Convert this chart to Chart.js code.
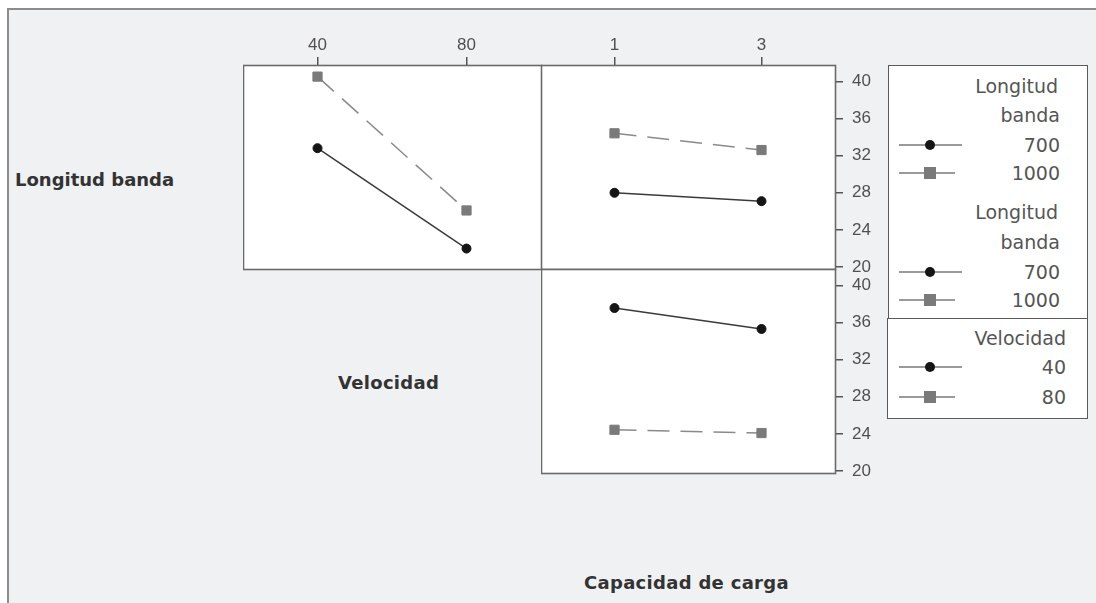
<!DOCTYPE html>
<html>
<head>
<meta charset="utf-8">
<script src="https://cdn.jsdelivr.net/npm/chart.js@4.4.0/dist/chart.umd.min.js"></script>
<style>
  html, body { margin: 0; padding: 0; background: #fff; }
  #page { position: relative; width: 1096px; height: 603px; overflow: hidden; background: #fff; }
  #frame { position: absolute; left: 7px; top: 8px; right: 0; bottom: 0;
           background: #f0f1f3; border-top: 2px solid #8c8c8c; border-left: 2px solid #8c8c8c; }
  canvas { position: absolute; }
  .lbl { position: absolute; font-family: "DejaVu Sans", sans-serif; font-weight: bold;
         font-size: 18px; letter-spacing: 0.3px; color: #333; white-space: nowrap; line-height: 20px; }
  .legbox { position: absolute; background: #fff; border: 1px solid #5a5a5a; box-sizing: border-box; }
  .legtxt { position: absolute; font-family: "DejaVu Sans", sans-serif; font-size: 19px;
            color: #555; white-space: nowrap; text-align: right; line-height: 22px; }
  .legline { position: absolute; height: 2px; background: #9a9a9a; }
  .legdot { position: absolute; }
</style>
</head>
<body>
<div id="page">
  <div id="frame"></div>
  <canvas id="chartA" width="300" height="246" style="left:243px; top:25px;"></canvas>
  <canvas id="chartB" width="336" height="264" style="left:541px; top:25px;"></canvas>
  <canvas id="chartC" width="336" height="244" style="left:541px; top:249px;"></canvas>
  <div class="lbl" style="left:15px; top:170px; letter-spacing: 0px;">Longitud banda</div>
  <div class="lbl" style="left:338px; top:373px;">Velocidad</div>
  <div class="lbl" style="left:584px; top:573px;">Capacidad de carga</div>
  <div id="legend"></div>
</div>
<script>
// niveles de los factores
const velocidadNiveles = [40, 80];
const capacidadNiveles = [1, 3];
const longitudNiveles = [700, 1000];
const yTicks = [20, 24, 28, 32, 36, 40];

// medias
const longitud700PorVelocidad = [32.8, 22.0];
const longitud1000PorVelocidad = [40.5, 26.1];
const longitud700PorCapacidad = [28.0, 27.1];
const longitud1000PorCapacidad = [34.4, 32.6];
const velocidad40PorCapacidad = [37.55, 35.3];
const velocidad80PorCapacidad = [24.45, 24.1];

Chart.defaults.font.family = "'Liberation Sans', sans-serif";
Chart.defaults.font.size = 17;
Chart.defaults.color = '#505050';

const panelBox = {
    id: 'panelBox',
    beforeDraw(chart) {
        const { ctx, chartArea: a } = chart;
        ctx.save();
        ctx.fillStyle = '#ffffff';
        ctx.fillRect(a.left, a.top, a.width, a.height);
        ctx.restore();
    },
    afterDraw(chart) {
        const { ctx, chartArea: a } = chart;
        ctx.save();
        ctx.strokeStyle = '#6a6a6a';
        ctx.lineWidth = 1.6;
        ctx.strokeRect(a.left + 0.5, a.top + 0.5, a.width, a.height);
        ctx.restore();
    }
};

function serieSolida(xs, ys) {
    return {
        data: xs.map((x, i) => ({ x: x, y: ys[i] })),
        borderColor: '#3a3a3a',
        borderWidth: 1.5,
        pointStyle: 'circle',
        pointRadius: 4.5,
        pointBackgroundColor: '#151515',
        pointBorderColor: '#151515',
        pointBorderWidth: 1
    };
}

function serieDiscontinua(xs, ys) {
    return {
        data: xs.map((x, i) => ({ x: x, y: ys[i] })),
        borderColor: '#8a8a8a',
        borderWidth: 1.5,
        borderDash: [22, 11],
        pointStyle: 'rect',
        pointRadius: 6.5,
        pointBackgroundColor: '#7a7a7a',
        pointBorderColor: '#7a7a7a',
        pointBorderWidth: 1
    };
}

function ejeX(niveles, min, max, mostrar) {
    const eje = {
        type: 'linear',
        position: 'top',
        display: mostrar,
        min: min,
        max: max,
        afterBuildTicks: s => { s.ticks = niveles.map(v => ({ value: v })); },
        grid: { drawOnChartArea: false, drawTicks: true, tickLength: 8, color: '#555', lineWidth: 1.5 },
        border: { display: false },
        ticks: { padding: 1, maxRotation: 0, autoSkip: false }
    };
    if (mostrar) eje.afterFit = s => { s.height = 40; };
    return eje;
}

function ejeY(mostrar) {
    const eje = {
        type: 'linear',
        position: 'right',
        display: mostrar,
        min: 19.8,
        max: 41.75,
        afterBuildTicks: s => { s.ticks = yTicks.map(v => ({ value: v })); },
        grid: { drawOnChartArea: false, drawTicks: true, tickLength: 8, color: '#555', lineWidth: 1.5 },
        border: { display: false },
        ticks: { padding: 9 }
    };
    if (mostrar) eje.afterFit = s => { s.width = 42; };
    return eje;
}

function panel(id, datasets, x, y, padding) {
    return new Chart(document.getElementById(id), {
        type: 'line',
        data: { datasets: datasets },
        options: {
            responsive: false,
            animation: false,
            layout: { padding: padding, autoPadding: false },
            plugins: { legend: { display: false }, tooltip: { enabled: false } },
            scales: { x: x, y: y }
        },
        plugins: [panelBox]
    });
}

panel('chartA', [
    serieSolida(velocidadNiveles, longitud700PorVelocidad),
    serieDiscontinua(velocidadNiveles, longitud1000PorVelocidad)
], ejeX(velocidadNiveles, 20, 100, true), ejeY(false), { top: 0, bottom: 2, left: 0, right: 2 });

panel('chartB', [
    serieSolida(capacidadNiveles, longitud700PorCapacidad),
    serieDiscontinua(capacidadNiveles, longitud1000PorCapacidad)
], ejeX(capacidadNiveles, 0, 4, true), ejeY(true), { top: 0, bottom: 20, left: 0, right: 0 });

panel('chartC', [
    serieSolida(capacidadNiveles, velocidad40PorCapacidad),
    serieDiscontinua(capacidadNiveles, velocidad80PorCapacidad)
], ejeX(capacidadNiveles, 0, 4, false), ejeY(true), { top: 20, bottom: 20, left: 0, right: 0 });

// leyendas
const leyenda = document.getElementById('legend');
function caja(left, top, w, h) {
    const d = document.createElement('div');
    d.className = 'legbox';
    Object.assign(d.style, { left: left + 'px', top: top + 'px', width: w + 'px', height: h + 'px' });
    leyenda.appendChild(d);
}
function texto(t, right, cy) {
    const d = document.createElement('div');
    d.className = 'legtxt';
    d.textContent = t;
    Object.assign(d.style, { right: (1096 - right) + 'px', top: (cy - 11) + 'px' });
    leyenda.appendChild(d);
}
function muestra(cy, tipo) {
    const l = document.createElement('div');
    l.className = 'legline';
    const fin = tipo === 'circle' ? 962 : 955;
    Object.assign(l.style, { left: '899px', width: (fin - 899) + 'px', top: (cy - 1) + 'px' });
    leyenda.appendChild(l);
    const m = document.createElement('div');
    m.className = 'legdot';
    if (tipo === 'circle') {
        Object.assign(m.style, { left: '925px', top: (cy - 5) + 'px', width: '10px', height: '10px',
            borderRadius: '50%', background: '#151515' });
    } else {
        Object.assign(m.style, { left: '924px', top: (cy - 6) + 'px', width: '12px', height: '12px',
            background: '#7a7a7a' });
    }
    leyenda.appendChild(m);
}

caja(888, 65, 200, 254);
caja(887, 318, 201, 101);

[[86, 115, 145, 173], [212, 242, 272, 300]].forEach(f => {
    texto('Longitud', 1058, f[0]);
    texto('banda', 1060, f[1]);
    texto(String(longitudNiveles[0]), 1060, f[2]);
    muestra(f[2], 'circle');
    texto(String(longitudNiveles[1]), 1060, f[3]);
    muestra(f[3], 'rect');
});
texto('Velocidad', 1066, 338);
texto(String(velocidadNiveles[0]), 1066, 367);
muestra(367, 'circle');
texto(String(velocidadNiveles[1]), 1066, 397);
muestra(397, 'rect');
</script>
</body>
</html>
